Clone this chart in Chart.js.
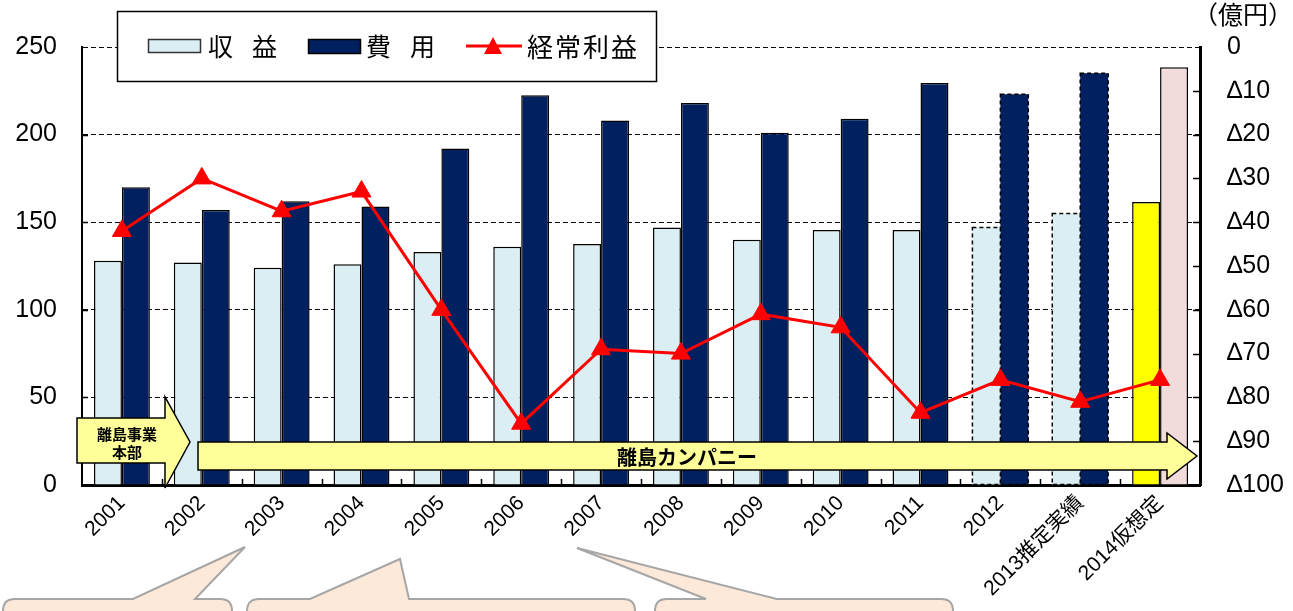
<!DOCTYPE html>
<html lang="ja">
<head>
<meta charset="utf-8">
<script src="https://cdn.jsdelivr.net/npm/chart.js@4.4.1/dist/chart.umd.min.js"></script>
<style>
  html, body { margin: 0; padding: 0; background: #fff; }
  #wrap { position: relative; width: 1293px; height: 611px; overflow: hidden; }
  #marks { position: absolute; left: 0; top: 0; }
  #over { position: absolute; left: 0; top: 0; pointer-events: none; }
  #over text { font-family: 'Noto Sans CJK JP', sans-serif; fill: #000; }
</style>
</head>
<body>
<div id="wrap">
  <canvas id="marks" width="1293" height="611"></canvas>
  <svg id="over" width="1293" height="611">
    <!-- legend -->
    <rect x="117.5" y="11.5" width="539" height="70" fill="#fff" stroke="#000" stroke-width="1.5"/>
    <rect x="148.5" y="39.5" width="52" height="13" fill="#dbeef4" stroke="#333" stroke-width="1.5"/>
    <text x="208" y="56" font-size="25">収</text>
    <text x="252" y="56" font-size="25">益</text>
    <rect x="308.5" y="39.5" width="52" height="14" fill="#002060" stroke="#000" stroke-width="1.5"/>
    <text x="366" y="56" font-size="25">費</text>
    <text x="410" y="56" font-size="25">用</text>
    <line x1="466" y1="46" x2="522" y2="46" stroke="#ff0000" stroke-width="3"/>
    <polygon points="493,37 502,54 484,54" fill="#ff0000"/>
    <text x="527" y="57" font-size="26" textLength="110" lengthAdjust="spacing">経常利益</text>

    <!-- unit -->
    <text x="1193" y="24" font-size="25">（億円）</text>

    <!-- arrows -->
    <polygon points="77,418 165,418 165,397 190,442 165,488 165,463 77,463" fill="#ffff99" stroke="#000" stroke-width="1.5"/>
    <text x="127" y="440" font-size="15" font-weight="bold" text-anchor="middle">離島事業</text>
    <text x="127" y="458" font-size="15" font-weight="bold" text-anchor="middle">本部</text>
    <polygon points="198,442 1167,442 1167,433 1197,456 1167,479 1167,470 198,470" fill="#ffff99" stroke="#000" stroke-width="1.5"/>
    <text x="687" y="465" font-size="20" font-weight="bold" text-anchor="middle">離島カンパニー</text>

    <!-- callouts -->
    <path d="M3,640 V611 Q3,599 15,599 H133 L245,547 L195,599 H220 Q232,599 232,611 V640" fill="#fde9d9" stroke="#a6a6a6" stroke-width="2"/>
    <path d="M247,640 V611 Q247,599 259,599 H310 L400,559 L409,599 H623 Q635,599 635,611 V640" fill="#fde9d9" stroke="#a6a6a6" stroke-width="2"/>
    <path d="M655,640 V611 Q655,599 667,599 H706 L577,548 L777,599 H941 Q953,599 953,611 V640" fill="#fde9d9" stroke="#a6a6a6" stroke-width="2"/>
  </svg>
</div>
<script>
// 離島 収益・費用・経常利益

const years = ['2001', '2002', '2003', '2004', '2005', '2006', '2007',
    '2008', '2009', '2010', '2011', '2012', '2013推定実績', '2014仮想定'];

const revenue = [128, 127, 124, 126, 133, 136, 137.5, 147, 140, 145.5, 145.5, 147, 155, 161.5];

const expense = [170, 157, 162, 159, 192, 222.5, 208, 218, 201, 209, 229.5, 223, 235, 238.5];

const profit = [-42, -30, -37.5, -33, -60, -86, -69, -70, -61, -64, -83.5, -76, -81, -76];

const leftTicks = [0, 50, 100, 150, 200, 250];
const rightTicks = [0, -10, -20, -30, -40, -50, -60, -70, -80, -90, -100];

const dashed = [11, 12];   // 2012, 2013 : 推定
const last = 13;           // 2014 : 想定

const FONT = "'Liberation Sans', 'Noto Sans CJK JP', sans-serif";
Chart.defaults.font.family = FONT;
Chart.defaults.color = '#000';

const ctx = document.getElementById('marks');

const extras = {
    id: 'extras',
    afterDatasetDraw(chart, args) {
        if (args.meta.type !== 'bar') return;
        const c = chart.ctx;
        c.save();
        c.setLineDash([4, 3]);
        c.lineWidth = 1.5;
        c.strokeStyle = '#000';
        dashed.forEach(i => {
            const b = args.meta.data[i];
            c.strokeRect(b.x - b.width / 2, b.y, b.width, b.base - b.y);
        });
        c.restore();
    },
    afterDraw(chart) {
        const c = chart.ctx;
        const a = chart.chartArea;
        const sx = chart.scales.x, sy = chart.scales.y, sy1 = chart.scales.y1;
        c.save();
        c.strokeStyle = '#000';
        c.lineWidth = 1.5;
        c.beginPath();
        for (let i = 1; i < years.length; i++) {
            const px = Math.round(sx.getPixelForValue(i - 0.5)) + 0.5;
            c.moveTo(px, a.bottom);
            c.lineTo(px, a.bottom - 6);
        }
        leftTicks.slice(1, -1).forEach(v => {
            const py = Math.round(sy.getPixelForValue(v)) + 0.5;
            c.moveTo(a.left, py);
            c.lineTo(a.left + 6, py);
        });
        rightTicks.slice(1, -1).forEach(v => {
            const py = Math.round(sy1.getPixelForValue(v)) + 0.5;
            c.moveTo(a.right, py);
            c.lineTo(a.right - 7, py);
        });
        c.stroke();
        c.restore();
    }
};

const graph = new Chart(ctx, {
    data: {
        labels: years,
        datasets: [
            {
                type: 'line',
                label: '経常利益',
                data: profit,
                yAxisID: 'y1',
                order: 0,
                borderColor: '#ff0000',
                borderWidth: 3,
                tension: 0,
                pointStyle: 'triangle',
                pointRadius: 11,
                pointBackgroundColor: '#ff0000',
                pointBorderColor: '#ff0000',
                pointBorderWidth: 1,
            },
            {
                type: 'bar',
                label: '収 益',
                data: revenue,
                yAxisID: 'y',
                order: 1,
                backgroundColor: c => c.dataIndex === last ? '#ffff00' : '#dbeef4',
                borderColor: '#000',
                borderWidth: c => dashed.includes(c.dataIndex) ? 0 : 1.5,
                categoryPercentage: 0.7,
                barPercentage: 1.0,
            },
            {
                type: 'bar',
                label: '費 用',
                data: expense,
                yAxisID: 'y',
                order: 1,
                backgroundColor: c => c.dataIndex === last ? '#f2dcdb' : '#002060',
                borderColor: '#000',
                borderWidth: c => dashed.includes(c.dataIndex) ? 0 : 1.5,
                categoryPercentage: 0.7,
                barPercentage: 1.0,
            }
        ],
    },
    options: {
        responsive: false,
        maintainAspectRatio: false,
        animation: false,
        layout: { padding: { top: 47, left: 0, right: 0, bottom: 0 } },
        plugins: {
            legend: { display: false },
            tooltip: { enabled: false },
        },
        scales: {
            x: {
                grid: { display: false, drawTicks: false },
                border: { color: '#000', width: 3 },
                ticks: {
                    autoSkip: false,
                    minRotation: 45,
                    maxRotation: 45,
                    padding: 6,
                    font: { size: 21 },
                },
                afterFit: s => { s.height = 126; },
            },
            y: {
                position: 'left',
                min: 0,
                max: 250,
                afterBuildTicks: s => { s.ticks = leftTicks.map(v => ({ value: v })); },
                grid: { color: '#000', lineWidth: 1, drawTicks: false },
                border: { color: '#000', width: 2, dash: [5, 3] },
                ticks: { padding: 25, font: { size: 25 } },
                afterFit: s => { s.width = 82; },
            },
            y1: {
                position: 'right',
                min: -100,
                max: 0,
                afterBuildTicks: s => { s.ticks = rightTicks.map(v => ({ value: v })); },
                grid: { display: false, drawTicks: false },
                border: { color: '#000', width: 3 },
                ticks: {
                    padding: 27,
                    font: { size: 25, family: "'Liberation Sans', sans-serif" },
                    callback: v => v === 0 ? '0' : '∆' + Math.abs(v),
                },
                afterFit: s => { s.width = 93; },
            },
        },
    },
    plugins: [extras],
});
</script>
</body>
</html>
